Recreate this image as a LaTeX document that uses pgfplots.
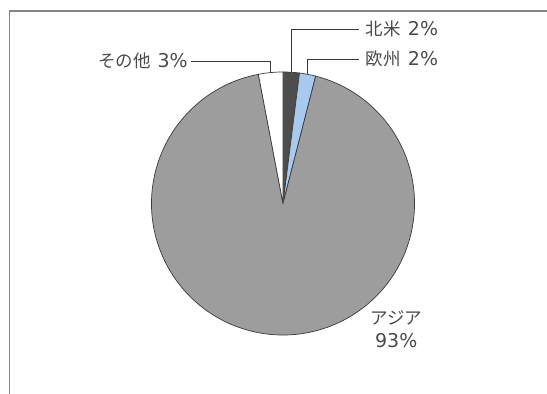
\documentclass[border=0pt]{standalone}
\usepackage{pgfplots}
\usepackage{pgfplotstable}
\pgfplotsset{compat=1.18}
\usepackage{fontspec}
\setmainfont{DejaVu Sans}
\newfontfamily\cjk{Noto Sans CJK JP}
\definecolor{asia}{HTML}{9D9D9D}
\definecolor{namer}{HTML}{4D4D4D}
\definecolor{europe}{HTML}{A9C9EE}
\definecolor{edge}{HTML}{3A3A3A}
\definecolor{txt}{HTML}{4A4A4A}
\definecolor{frame}{HTML}{858585}

\pgfplotstableread{
share
2
2
93
3
}\piedata
\pgfplotstablegetelem{0}{share}\of\piedata \let\sA\pgfplotsretval
\pgfplotstablegetelem{1}{share}\of\piedata \let\sB\pgfplotsretval
\pgfplotstablegetelem{2}{share}\of\piedata \let\sC\pgfplotsretval
\pgfplotstablegetelem{3}{share}\of\piedata \let\sD\pgfplotsretval
\newcommand{\slice}[3]{%
  \filldraw[fill=#3, draw=edge, line width=0.7pt]
    (axis cs:0,0) -- (axis cs:{cos(90-3.6*#1)},{sin(90-3.6*#1)})
    arc[start angle={90-3.6*#1}, end angle={90-3.6*#2}, radius=131.5pt] -- cycle;}
\newcommand{\lbl}[2]{{\cjk\fontsize{17.5}{20}\selectfont #1}\hspace{7pt}{\fontsize{19}{22}\selectfont #2}}

\begin{document}
\begin{tikzpicture}
\pgfmathsetmacro{\cA}{\sA}
\pgfmathsetmacro{\cB}{\cA+\sB}
\pgfmathsetmacro{\cC}{\cB+\sC}
\pgfmathsetmacro{\cD}{\cC+\sD}
\pgfmathsetmacro{\mA}{90-3.6*(\cA-\sA/2)}
\pgfmathsetmacro{\mB}{90-3.6*(\cB-\sB/2)}
\pgfmathsetmacro{\mD}{90-3.6*(\cD-\sD/2)}
\path[use as bounding box] (0,0) rectangle (547pt,394pt);
\draw[frame, line width=1.5pt] (9.5pt,0) -- (9.5pt,383pt) -- (547pt,383pt);
\begin{axis}[x=131.5pt, y=131.5pt, hide axis,
  xmin=-2.1521, xmax=2.0076, ymin=-1.4487, ymax=1.5475,
  at={(0,0)}, anchor=south west, clip=false]
\slice{0}{\cA}{namer}
\slice{\cA}{\cB}{europe}
\slice{\cB}{\cC}{asia}
\slice{\cC}{\cD}{white}
\draw[edge, line width=0.8pt] (axis cs:{cos(\mA)},{sin(\mA)}) -- (axis cs:{cos(\mA)},1.327) -- (axis cs:0.580,1.327);
\draw[edge, line width=0.8pt] (axis cs:{cos(\mB)},{sin(\mB)}) -- (axis cs:{cos(\mB)},1.099) -- (axis cs:0.580,1.099);
\draw[edge, line width=0.8pt] (axis cs:{cos(\mD)},{sin(\mD)}) -- (axis cs:{cos(\mD)},1.0837) -- (axis cs:-0.6996,1.0837);
\node[anchor=west, inner sep=0, text=txt] at (axis cs:0.629,1.327) {\lbl{北米}{2\%}};
\node[anchor=west, inner sep=0, text=txt] at (axis cs:0.629,1.099) {\lbl{欧州}{2\%}};
\node[anchor=east, inner sep=0, text=txt] at (axis cs:-0.7224,1.0837) {\lbl{その他}{3\%}};
\node[inner sep=0, text=txt, font=\cjk\fontsize{17.5}{20}\selectfont] at (axis cs:0.863,-0.8707) {アジア};
\node[inner sep=0, text=txt, font=\fontsize{19}{22}\selectfont] at (axis cs:0.861,-1.0456) {93\%};
\end{axis}
\end{tikzpicture}
\end{document}
